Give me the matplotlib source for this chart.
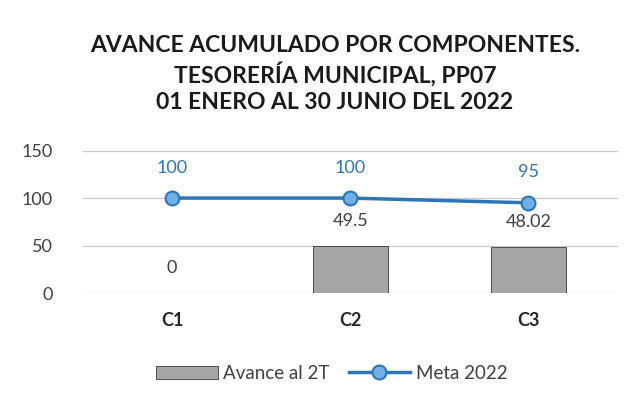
import matplotlib.pyplot as plt
import numpy as np

plt.rcParams['font.family'] = ['Lato', 'DejaVu Sans']

categories = ['C1', 'C2', 'C3']
avance = [0, 49.5, 48.02]
meta = [100, 100, 95]
yticks = [0, 50, 100, 150]

fig = plt.figure(figsize=(6.38, 4.07), dpi=100)
ax = fig.add_axes([0.13, 0.28, 0.838, 0.35])

x = np.arange(len(categories))
bars = ax.bar(x, avance, width=0.42, color='#a6a6a6', edgecolor='#3a3a3a', linewidth=0.6,
              label='Avance al 2T', zorder=2)
line, = ax.plot(x, meta, color='#2e75b6', linewidth=2.5, marker='o', markersize=10,
                markerfacecolor='#6fb0e6', markeredgecolor='#2e75b6', markeredgewidth=1.5,
                label='Meta 2022', zorder=3)

for xi, v in zip(x, avance):
    ax.annotate(f'{v:g}', (xi, v), xytext=(0, 18), textcoords='offset points',
                ha='center', va='center', fontsize=13, color='#404040')
for xi, v in zip(x, meta):
    ax.annotate(f'{v:g}', (xi, v), xytext=(0, 22), textcoords='offset points',
                ha='center', va='center', fontsize=13, color='#2e75b6')

ax.set_xlim(-0.5, 2.5)
ax.set_ylim(0, 150)
ax.set_yticks(yticks)
ax.set_xticks(x)
ax.set_xticklabels(categories, fontsize=13, fontweight='bold', color='#262626')
ax.tick_params(axis='y', labelsize=13, colors='#404040', length=0, pad=22)
ax.tick_params(axis='x', length=0, pad=14)
ax.grid(axis='y', color='#c8c8c8', linewidth=0.9, zorder=0)
for s in ax.spines.values():
    s.set_visible(False)

fig.suptitle('AVANCE ACUMULADO POR COMPONENTES.\nTESORERÍA MUNICIPAL, PP07\n01 ENERO AL 30 JUNIO DEL 2022',
             x=0.525, y=0.915, fontsize=16.5, fontweight='bold', color='#1a1a1a', linespacing=1.3)

fig.legend(handles=[bars, line], loc='lower center', bbox_to_anchor=(0.52, 0.02), ncol=2,
           frameon=False, fontsize=13.5, handlelength=3.3, columnspacing=1.0,
           handletextpad=0.3, labelcolor='#404040')

plt.savefig('out.png', dpi=100)
